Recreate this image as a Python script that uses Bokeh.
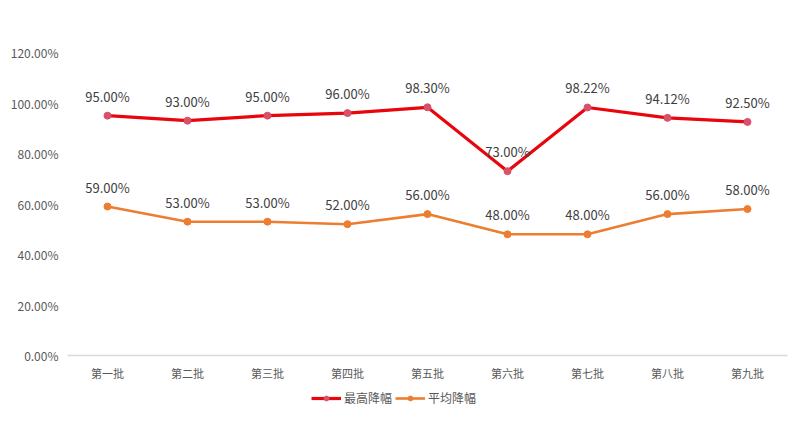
from bokeh.plotting import figure
from bokeh.layouts import column
from bokeh.models import FactorRange, Range1d, FixedTicker, Legend, LegendItem, ColumnDataSource
from bokeh.core.properties import value
from bokeh.embed import file_html
from bokeh.resources import INLINE

categories = ["第一批", "第二批", "第三批", "第四批", "第五批", "第六批", "第七批", "第八批", "第九批"]
max_drop = [95.00, 93.00, 95.00, 96.00, 98.30, 73.00, 98.22, 94.12, 92.50]
avg_drop = [59.00, 53.00, 53.00, 52.00, 56.00, 48.00, 48.00, 56.00, 58.00]
y_ticks = [0, 20, 40, 60, 80, 100, 120]
y_tick_labels = ["0.00%", "20.00%", "40.00%", "60.00%", "80.00%", "100.00%", "120.00%"]
series_names = ["最高降幅", "平均降幅"]

FONT = "Noto Sans CJK SC"

red = "#E8060C"
red_marker = "#D9506B"
orange = "#ED7D31"

p = figure(frame_width=720, frame_height=303, x_range=FactorRange(*categories, range_padding=0),
           y_range=Range1d(0, 120), output_backend="svg", toolbar_location=None,
           min_border_left=67, min_border_right=8, min_border_top=52, min_border_bottom=0)
p.outline_line_color = None
p.xgrid.grid_line_color = None
p.ygrid.grid_line_color = None
p.background_fill_color = "white"
p.border_fill_color = "white"

p.yaxis.ticker = FixedTicker(ticks=y_ticks)
p.yaxis.major_label_overrides = {t: l for t, l in zip(y_ticks, y_tick_labels)}
p.yaxis.axis_line_color = None
p.yaxis.major_tick_line_color = None
p.yaxis.major_tick_out = 0
p.yaxis.major_tick_in = 0
p.yaxis.minor_tick_line_color = None
p.yaxis.major_label_standoff = 9
p.yaxis.major_label_text_color = "#595959"
p.yaxis.major_label_text_font = FONT
p.yaxis.major_label_text_font_size = "12px"

p.xaxis.axis_line_color = "#D9D9D9"
p.xaxis.axis_line_width = 1.5
p.xaxis.major_tick_line_color = None
p.xaxis.major_tick_out = 0
p.xaxis.major_tick_in = 0
p.xaxis.minor_tick_line_color = None
p.xaxis.major_label_standoff = 9
p.xaxis.major_label_text_color = "#595959"
p.xaxis.major_label_text_font = FONT
p.xaxis.major_label_text_font_size = "11px"

src = ColumnDataSource(dict(
    x=categories, m=max_drop, a=avg_drop,
    ml=["%.2f%%" % v for v in max_drop],
    al=["%.2f%%" % v for v in avg_drop],
))

p.line("x", "m", source=src, line_color=red, line_width=3.2)
p.scatter("x", "m", source=src, size=7, fill_color=red_marker, line_color=red_marker)
p.line("x", "a", source=src, line_color=orange, line_width=2.6)
p.scatter("x", "a", source=src, size=7, fill_color=orange, line_color=orange)

for col, ycol in (("ml", "m"), ("al", "a")):
    p.text("x", ycol, text=col, source=src, text_align="center", text_baseline="bottom",
           y_offset=-10, text_color="#404040", text_font_size="13px",
           text_font=value(FONT))

# legend strip below the chart (same series, drawn out of view; only the legend shows)
lg = figure(width=p.min_border_left + 720 + 8, height=24,
            x_range=FactorRange(*categories), y_range=Range1d(1000, 1001),
            output_backend="svg", toolbar_location=None, min_border=0)
lg.axis.visible = False
lg.grid.visible = False
lg.outline_line_color = None
r1 = lg.line("x", "m", source=src, line_color=red, line_width=3.2)
s1 = lg.scatter("x", "m", source=src, size=7, fill_color=red_marker, line_color=red_marker)
r2 = lg.line("x", "a", source=src, line_color=orange, line_width=2.6)
s2 = lg.scatter("x", "a", source=src, size=7, fill_color=orange, line_color=orange)
legend = Legend(items=[LegendItem(label=series_names[0], renderers=[r1, s1]),
                       LegendItem(label=series_names[1], renderers=[r2, s2])],
                orientation="horizontal", location=(244, 1),
                label_text_font=FONT, label_text_font_size="12px",
                label_text_color="#595959", border_line_color=None,
                background_fill_alpha=0, glyph_width=30, glyph_height=12,
                spacing=3, padding=2, margin=0, label_standoff=3)
lg.add_layout(legend)

layout = column(p, lg, spacing=0)
open("out.html", "w").write(file_html(layout, INLINE))
